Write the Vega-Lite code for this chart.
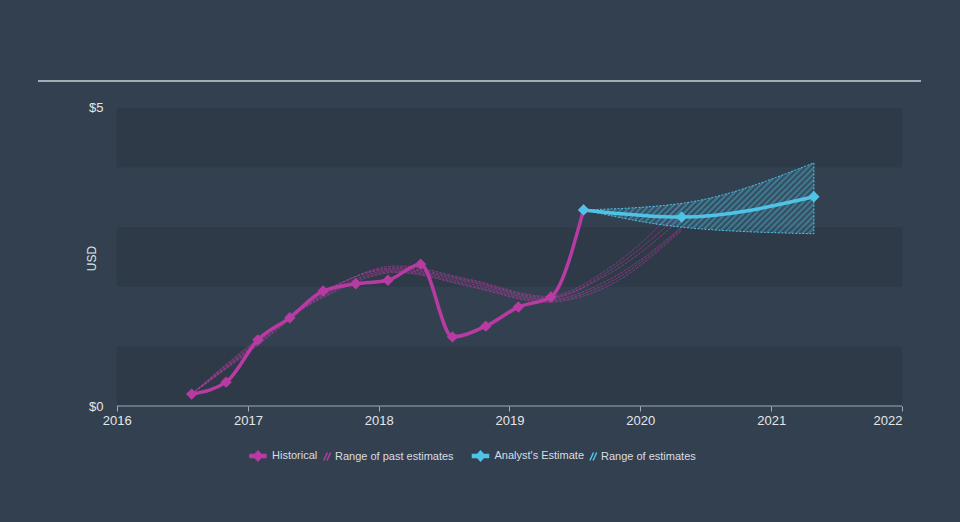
{
  "$schema": "https://vega.github.io/schema/vega-lite/v6.json",
  "width": 883,
  "height": 325,
  "autosize": "none",
  "padding": {"left": 38, "top": 81, "right": 39, "bottom": 116},
  "background": "#334050",
  "config": {
    "view": {"stroke": null},
    "font": "Liberation Sans",
    "axis": {"grid": false, "labelFont": "Liberation Sans", "titleFont": "Liberation Sans"},
    "legend": {"labelFont": "Liberation Sans"}
  },
  "datasets": {
    "bands": [{"lo": 0, "hi": 1}, {"lo": 2, "hi": 3}, {"lo": 4, "hi": 5}],
    "historical": [
      {"date": "2016-07-28", "value": 0.20},
      {"date": "2016-11-01", "value": 0.40},
      {"date": "2017-01-29", "value": 1.11},
      {"date": "2017-04-28", "value": 1.48},
      {"date": "2017-07-30", "value": 1.93},
      {"date": "2017-10-29", "value": 2.05},
      {"date": "2018-01-27", "value": 2.11},
      {"date": "2018-04-28", "value": 2.38},
      {"date": "2018-07-26", "value": 1.16},
      {"date": "2018-10-27", "value": 1.34},
      {"date": "2019-01-26", "value": 1.66},
      {"date": "2019-04-27", "value": 1.83},
      {"date": "2019-07-27", "value": 3.29}
    ],
    "analyst": [
      {"date": "2019-07-27", "value": 3.29},
      {"date": "2020-04-26", "value": 3.17},
      {"date": "2021-04-30", "value": 3.51}
    ],
    "range": [
      {"date": "2019-07-27", "low": 3.29, "high": 3.29},
      {"date": "2020-04-26", "low": 3.00, "high": 3.40},
      {"date": "2021-04-30", "low": 2.89, "high": 4.08}
    ],
    "past": [
      {"run": 1, "date": "2016-07-28", "value": 0.20},
      {"run": 1, "date": "2017-01-29", "value": 1.02},
      {"run": 1, "date": "2017-07-30", "value": 1.86},
      {"run": 1, "date": "2018-02-20", "value": 2.28},
      {"run": 1, "date": "2018-09-15", "value": 2.05},
      {"run": 1, "date": "2019-04-15", "value": 1.78},
      {"run": 1, "date": "2019-10-15", "value": 2.15},
      {"run": 1, "date": "2020-04-26", "value": 3.00},
      {"run": 2, "date": "2016-07-28", "value": 0.20},
      {"run": 2, "date": "2017-01-29", "value": 1.06},
      {"run": 2, "date": "2017-07-30", "value": 1.90},
      {"run": 2, "date": "2018-02-20", "value": 2.32},
      {"run": 2, "date": "2018-09-15", "value": 2.10},
      {"run": 2, "date": "2019-04-15", "value": 1.82},
      {"run": 2, "date": "2019-10-15", "value": 2.25},
      {"run": 2, "date": "2020-04-26", "value": 3.15},
      {"run": 3, "date": "2016-07-28", "value": 0.20},
      {"run": 3, "date": "2017-01-29", "value": 1.10},
      {"run": 3, "date": "2017-07-30", "value": 1.84},
      {"run": 3, "date": "2018-02-20", "value": 2.26},
      {"run": 3, "date": "2018-09-15", "value": 2.02},
      {"run": 3, "date": "2019-04-15", "value": 1.76},
      {"run": 3, "date": "2019-10-15", "value": 2.10},
      {"run": 3, "date": "2020-04-26", "value": 2.98},
      {"run": 4, "date": "2016-07-28", "value": 0.20},
      {"run": 4, "date": "2017-01-29", "value": 1.08},
      {"run": 4, "date": "2017-07-30", "value": 1.92},
      {"run": 4, "date": "2018-02-20", "value": 2.30},
      {"run": 4, "date": "2018-09-15", "value": 2.08},
      {"run": 4, "date": "2019-04-15", "value": 1.80},
      {"run": 4, "date": "2019-10-15", "value": 2.30},
      {"run": 4, "date": "2020-04-26", "value": 3.25},
      {"run": 5, "date": "2016-07-28", "value": 0.20},
      {"run": 5, "date": "2017-01-29", "value": 1.04},
      {"run": 5, "date": "2017-07-30", "value": 1.88},
      {"run": 5, "date": "2018-02-20", "value": 2.35},
      {"run": 5, "date": "2018-09-15", "value": 2.12},
      {"run": 5, "date": "2019-04-15", "value": 1.84},
      {"run": 5, "date": "2019-10-15", "value": 2.35},
      {"run": 5, "date": "2020-04-26", "value": 3.40},
      {"run": 6, "date": "2016-07-28", "value": 0.20},
      {"run": 6, "date": "2017-01-29", "value": 1.12},
      {"run": 6, "date": "2017-07-30", "value": 1.82},
      {"run": 6, "date": "2018-02-20", "value": 2.24},
      {"run": 6, "date": "2018-09-15", "value": 2.00},
      {"run": 6, "date": "2019-04-15", "value": 1.74},
      {"run": 6, "date": "2019-10-15", "value": 2.05},
      {"run": 6, "date": "2020-04-26", "value": 2.95}
    ]
  },
  "layer": [
    {
      "data": {"name": "bands"},
      "mark": {"type": "rect", "color": "#2e3a48"},
      "encoding": {
        "x": {
          "datum": {"year": 2016, "month": 1, "date": 1, "utc": true}, "type": "temporal", "title": null,
          "scale": {"type": "utc", "nice": false, "domain": [{"year": 2015, "month": 5, "date": 26, "utc": true}, {"year": 2022, "month": 2, "date": 23, "utc": true}]},
          "axis": {
            "title": null,
            "domain": false,
            "values": [{"year": 2016, "utc": true}, {"year": 2017, "utc": true}, {"year": 2018, "utc": true}, {"year": 2019, "utc": true}, {"year": 2020, "utc": true}, {"year": 2021, "utc": true}, {"year": 2022, "utc": true}],
            "format": "%Y",
            "labelFlush": false,
            "labelOverlap": false,
            "labelFontSize": 13,
            "labelColor": "#e4e7ea",
            "labelPadding": 3,
            "labelAlign": {"condition": {"test": "utcyear(datum.value) == 2022", "value": "right"}, "value": "center"},
            "ticks": true,
            "tickSize": 5,
            "tickColor": "#a3abb3",
            "tickWidth": 1
          }
        },
        "x2": {"datum": {"year": 2022, "month": 1, "date": 1, "utc": true}},
        "y": {
          "field": "lo", "type": "quantitative", "title": "USD",
          "scale": {"domain": [0, 5.453], "nice": false},
          "axis": {
            "title": "USD",
            "titleFontSize": 12,
            "titleFontWeight": "normal",
            "titleColor": "#dfe3e7",
            "titlePadding": -10,
            "titleY": 177,
            "values": [0, 5],
            "labelExpr": "'$' + datum.value",
            "labelFontSize": 13,
            "labelColor": "#e4e7ea",
            "labelPadding": 14,
            "offset": -79,
            "ticks": false,
            "domain": false
          }
        },
        "y2": {"field": "hi"}
      }
    },
    {
      "data": {"values": [{}]},
      "mark": {"type": "rule", "color": "#a3abb3", "strokeWidth": 2},
      "encoding": {
        "y": {"datum": 5.453, "type": "quantitative", "title": "USD", "scale": {"domain": [0, 5.453], "nice": false}}
      }
    },
    {
      "data": {"values": [{}]},
      "mark": {"type": "rule", "color": "#a3abb3", "strokeWidth": 1},
      "encoding": {
        "x": {"datum": {"year": 2016, "month": 1, "date": 1, "utc": true}, "type": "temporal", "title": null, "scale": {"type": "utc", "nice": false, "domain": [{"year": 2015, "month": 5, "date": 26, "utc": true}, {"year": 2022, "month": 2, "date": 23, "utc": true}]}},
        "x2": {"datum": {"year": 2022, "month": 1, "date": 1, "utc": true}},
        "y": {"datum": 0, "type": "quantitative", "title": "USD", "scale": {"domain": [0, 5.453], "nice": false}}
      }
    },
    {
      "layer": [
        {
          "data": {"name": "past"},
          "mark": {"type": "line", "interpolate": "monotone", "strokeWidth": 0.8, "opacity": 0.75, "strokeDash": [3, 1]},
          "encoding": {
            "x": {"field": "date", "type": "temporal", "title": null, "scale": {"type": "utc", "nice": false, "domain": [{"year": 2015, "month": 5, "date": 26, "utc": true}, {"year": 2022, "month": 2, "date": 23, "utc": true}]}},
            "y": {"field": "value", "type": "quantitative", "title": "USD", "scale": {"domain": [0, 5.453], "nice": false}},
            "detail": {"field": "run", "type": "nominal"},
            "color": {
              "datum": "Range of past estimates",
              "type": "nominal",
              "scale": {"domain": ["Historical", "Range of past estimates"], "range": ["#b83ba3", "#b83ba3"]},
              "legend": {
                "title": null, "orient": "none", "legendX": 211, "legendY": 366, "direction": "horizontal",
                "columnPadding": 0, "labelOffset": 5, "symbolSize": 256, "labelFontSize": 11, "labelColor": "#d9dde2", "padding": 0,
                "encode": {
                  "symbols": {"update": {
                    "shape": {"signal": "datum.value == 'Historical' ? 'M-1,-0.19H1V0.19H-1Z M0,-0.62L0.56,0L0,0.62L-0.56,0Z' : 'M-0.4,0.5L0.05,-0.5M0,0.5L0.45,-0.5'"},
                    "fill": {"signal": "datum.value == 'Historical' ? '#b83ba3' : 'transparent'"},
                    "stroke": {"signal": "datum.value == 'Historical' ? 'transparent' : '#b83ba3'"},
                    "strokeWidth": {"value": 1.5}, "opacity": {"value": 1}, "strokeDash": {"value": []}
                  }},
                  "labels": {"update": {"dx": {"signal": "datum.value == 'Historical' ? 0 : -6"}}}
                }
              }
            }
          }
        },
        {
          "data": {"name": "historical"},
          "mark": {"type": "line", "interpolate": "monotone", "strokeWidth": 3.5},
          "encoding": {
            "x": {"field": "date", "type": "temporal", "title": null, "scale": {"type": "utc", "nice": false, "domain": [{"year": 2015, "month": 5, "date": 26, "utc": true}, {"year": 2022, "month": 2, "date": 23, "utc": true}]}},
            "y": {"field": "value", "type": "quantitative", "title": "USD", "scale": {"domain": [0, 5.453], "nice": false}},
            "color": {
              "datum": "Historical",
              "type": "nominal",
              "scale": {"domain": ["Historical", "Range of past estimates"], "range": ["#b83ba3", "#b83ba3"]},
              "legend": {
                "title": null, "orient": "none", "legendX": 211, "legendY": 366, "direction": "horizontal",
                "columnPadding": 0, "labelOffset": 5, "symbolSize": 256, "labelFontSize": 11, "labelColor": "#d9dde2", "padding": 0,
                "encode": {
                  "symbols": {"update": {
                    "shape": {"signal": "datum.value == 'Historical' ? 'M-1,-0.19H1V0.19H-1Z M0,-0.62L0.56,0L0,0.62L-0.56,0Z' : 'M-0.4,0.5L0.05,-0.5M0,0.5L0.45,-0.5'"},
                    "fill": {"signal": "datum.value == 'Historical' ? '#b83ba3' : 'transparent'"},
                    "stroke": {"signal": "datum.value == 'Historical' ? 'transparent' : '#b83ba3'"},
                    "strokeWidth": {"value": 1.5}, "opacity": {"value": 1}, "strokeDash": {"value": []}
                  }},
                  "labels": {"update": {"dx": {"signal": "datum.value == 'Historical' ? 0 : -6"}}}
                }
              }
            }
          }
        },
        {
          "data": {"name": "historical"},
          "mark": {"type": "point", "shape": "diamond", "filled": true, "size": 130, "opacity": 1},
          "encoding": {
            "x": {"field": "date", "type": "temporal", "title": null, "scale": {"type": "utc", "nice": false, "domain": [{"year": 2015, "month": 5, "date": 26, "utc": true}, {"year": 2022, "month": 2, "date": 23, "utc": true}]}},
            "y": {"field": "value", "type": "quantitative", "title": "USD", "scale": {"domain": [0, 5.453], "nice": false}},
            "color": {
              "datum": "Historical",
              "type": "nominal",
              "scale": {"domain": ["Historical", "Range of past estimates"], "range": ["#b83ba3", "#b83ba3"]},
              "legend": {
                "title": null, "orient": "none", "legendX": 211, "legendY": 366, "direction": "horizontal",
                "columnPadding": 0, "labelOffset": 5, "symbolSize": 256, "labelFontSize": 11, "labelColor": "#d9dde2", "padding": 0,
                "encode": {
                  "symbols": {"update": {
                    "shape": {"signal": "datum.value == 'Historical' ? 'M-1,-0.19H1V0.19H-1Z M0,-0.62L0.56,0L0,0.62L-0.56,0Z' : 'M-0.4,0.5L0.05,-0.5M0,0.5L0.45,-0.5'"},
                    "fill": {"signal": "datum.value == 'Historical' ? '#b83ba3' : 'transparent'"},
                    "stroke": {"signal": "datum.value == 'Historical' ? 'transparent' : '#b83ba3'"},
                    "strokeWidth": {"value": 1.5}, "opacity": {"value": 1}, "strokeDash": {"value": []}
                  }},
                  "labels": {"update": {"dx": {"signal": "datum.value == 'Historical' ? 0 : -6"}}}
                }
              }
            }
          }
        }
      ]
    },
    {
      "layer": [
        {
          "data": {"name": "range"},
          "mark": {
            "type": "area",
            "interpolate": "monotone",
            "stroke": "#4fc3e6",
            "strokeWidth": 1,
            "strokeDash": [2, 1.5],
            "fill": {
              "gradient": "linear",
              "x1": 0, "y1": 0, "x2": 1.195, "y2": 0.369,
              "stops": [
                {"offset": 0, "color": "rgba(79,195,230,0.5)"}, {"offset": 0.01, "color": "rgba(79,195,230,0.03)"},
                {"offset": 0.02, "color": "rgba(79,195,230,0.5)"}, {"offset": 0.03, "color": "rgba(79,195,230,0.03)"},
                {"offset": 0.04, "color": "rgba(79,195,230,0.5)"}, {"offset": 0.05, "color": "rgba(79,195,230,0.03)"},
                {"offset": 0.06, "color": "rgba(79,195,230,0.5)"}, {"offset": 0.07, "color": "rgba(79,195,230,0.03)"},
                {"offset": 0.08, "color": "rgba(79,195,230,0.5)"}, {"offset": 0.09, "color": "rgba(79,195,230,0.03)"},
                {"offset": 0.10, "color": "rgba(79,195,230,0.5)"}, {"offset": 0.11, "color": "rgba(79,195,230,0.03)"},
                {"offset": 0.12, "color": "rgba(79,195,230,0.5)"}, {"offset": 0.13, "color": "rgba(79,195,230,0.03)"},
                {"offset": 0.14, "color": "rgba(79,195,230,0.5)"}, {"offset": 0.15, "color": "rgba(79,195,230,0.03)"},
                {"offset": 0.16, "color": "rgba(79,195,230,0.5)"}, {"offset": 0.17, "color": "rgba(79,195,230,0.03)"},
                {"offset": 0.18, "color": "rgba(79,195,230,0.5)"}, {"offset": 0.19, "color": "rgba(79,195,230,0.03)"},
                {"offset": 0.20, "color": "rgba(79,195,230,0.5)"}, {"offset": 0.21, "color": "rgba(79,195,230,0.03)"},
                {"offset": 0.22, "color": "rgba(79,195,230,0.5)"}, {"offset": 0.23, "color": "rgba(79,195,230,0.03)"},
                {"offset": 0.24, "color": "rgba(79,195,230,0.5)"}, {"offset": 0.25, "color": "rgba(79,195,230,0.03)"},
                {"offset": 0.26, "color": "rgba(79,195,230,0.5)"}, {"offset": 0.27, "color": "rgba(79,195,230,0.03)"},
                {"offset": 0.28, "color": "rgba(79,195,230,0.5)"}, {"offset": 0.29, "color": "rgba(79,195,230,0.03)"},
                {"offset": 0.30, "color": "rgba(79,195,230,0.5)"}, {"offset": 0.31, "color": "rgba(79,195,230,0.03)"},
                {"offset": 0.32, "color": "rgba(79,195,230,0.5)"}, {"offset": 0.33, "color": "rgba(79,195,230,0.03)"},
                {"offset": 0.34, "color": "rgba(79,195,230,0.5)"}, {"offset": 0.35, "color": "rgba(79,195,230,0.03)"},
                {"offset": 0.36, "color": "rgba(79,195,230,0.5)"}, {"offset": 0.37, "color": "rgba(79,195,230,0.03)"},
                {"offset": 0.38, "color": "rgba(79,195,230,0.5)"}, {"offset": 0.39, "color": "rgba(79,195,230,0.03)"},
                {"offset": 0.40, "color": "rgba(79,195,230,0.5)"}, {"offset": 0.41, "color": "rgba(79,195,230,0.03)"},
                {"offset": 0.42, "color": "rgba(79,195,230,0.5)"}, {"offset": 0.43, "color": "rgba(79,195,230,0.03)"},
                {"offset": 0.44, "color": "rgba(79,195,230,0.5)"}, {"offset": 0.45, "color": "rgba(79,195,230,0.03)"},
                {"offset": 0.46, "color": "rgba(79,195,230,0.5)"}, {"offset": 0.47, "color": "rgba(79,195,230,0.03)"},
                {"offset": 0.48, "color": "rgba(79,195,230,0.5)"}, {"offset": 0.49, "color": "rgba(79,195,230,0.03)"},
                {"offset": 0.50, "color": "rgba(79,195,230,0.5)"}, {"offset": 0.51, "color": "rgba(79,195,230,0.03)"},
                {"offset": 0.52, "color": "rgba(79,195,230,0.5)"}, {"offset": 0.53, "color": "rgba(79,195,230,0.03)"},
                {"offset": 0.54, "color": "rgba(79,195,230,0.5)"}, {"offset": 0.55, "color": "rgba(79,195,230,0.03)"},
                {"offset": 0.56, "color": "rgba(79,195,230,0.5)"}, {"offset": 0.57, "color": "rgba(79,195,230,0.03)"},
                {"offset": 0.58, "color": "rgba(79,195,230,0.5)"}, {"offset": 0.59, "color": "rgba(79,195,230,0.03)"},
                {"offset": 0.60, "color": "rgba(79,195,230,0.5)"}, {"offset": 0.61, "color": "rgba(79,195,230,0.03)"},
                {"offset": 0.62, "color": "rgba(79,195,230,0.5)"}, {"offset": 0.63, "color": "rgba(79,195,230,0.03)"},
                {"offset": 0.64, "color": "rgba(79,195,230,0.5)"}, {"offset": 0.65, "color": "rgba(79,195,230,0.03)"},
                {"offset": 0.66, "color": "rgba(79,195,230,0.5)"}, {"offset": 0.67, "color": "rgba(79,195,230,0.03)"},
                {"offset": 0.68, "color": "rgba(79,195,230,0.5)"}, {"offset": 0.69, "color": "rgba(79,195,230,0.03)"},
                {"offset": 0.70, "color": "rgba(79,195,230,0.5)"}, {"offset": 0.71, "color": "rgba(79,195,230,0.03)"},
                {"offset": 0.72, "color": "rgba(79,195,230,0.5)"}, {"offset": 0.73, "color": "rgba(79,195,230,0.03)"},
                {"offset": 0.74, "color": "rgba(79,195,230,0.5)"}, {"offset": 0.75, "color": "rgba(79,195,230,0.03)"},
                {"offset": 0.76, "color": "rgba(79,195,230,0.5)"}, {"offset": 0.77, "color": "rgba(79,195,230,0.03)"},
                {"offset": 0.78, "color": "rgba(79,195,230,0.5)"}, {"offset": 0.79, "color": "rgba(79,195,230,0.03)"},
                {"offset": 0.80, "color": "rgba(79,195,230,0.5)"}, {"offset": 0.81, "color": "rgba(79,195,230,0.03)"},
                {"offset": 0.82, "color": "rgba(79,195,230,0.5)"}, {"offset": 0.83, "color": "rgba(79,195,230,0.03)"},
                {"offset": 0.84, "color": "rgba(79,195,230,0.5)"}, {"offset": 0.85, "color": "rgba(79,195,230,0.03)"},
                {"offset": 0.86, "color": "rgba(79,195,230,0.5)"}, {"offset": 0.87, "color": "rgba(79,195,230,0.03)"},
                {"offset": 0.88, "color": "rgba(79,195,230,0.5)"}, {"offset": 0.89, "color": "rgba(79,195,230,0.03)"},
                {"offset": 0.90, "color": "rgba(79,195,230,0.5)"}, {"offset": 0.91, "color": "rgba(79,195,230,0.03)"},
                {"offset": 0.92, "color": "rgba(79,195,230,0.5)"}, {"offset": 0.93, "color": "rgba(79,195,230,0.03)"},
                {"offset": 0.94, "color": "rgba(79,195,230,0.5)"}, {"offset": 0.95, "color": "rgba(79,195,230,0.03)"},
                {"offset": 0.96, "color": "rgba(79,195,230,0.5)"}, {"offset": 0.97, "color": "rgba(79,195,230,0.03)"},
                {"offset": 0.98, "color": "rgba(79,195,230,0.5)"}, {"offset": 0.99, "color": "rgba(79,195,230,0.03)"},
                {"offset": 1, "color": "rgba(79,195,230,0.5)"}
              ]
            }
          },
          "encoding": {
            "x": {"field": "date", "type": "temporal", "title": null, "scale": {"type": "utc", "nice": false, "domain": [{"year": 2015, "month": 5, "date": 26, "utc": true}, {"year": 2022, "month": 2, "date": 23, "utc": true}]}},
            "y": {"field": "low", "type": "quantitative", "title": "USD", "scale": {"domain": [0, 5.453], "nice": false}},
            "y2": {"field": "high"}
          }
        },
        {
          "data": {"name": "analyst"},
          "mark": {"type": "line", "interpolate": "monotone", "strokeWidth": 3.5},
          "encoding": {
            "x": {"field": "date", "type": "temporal", "title": null, "scale": {"type": "utc", "nice": false, "domain": [{"year": 2015, "month": 5, "date": 26, "utc": true}, {"year": 2022, "month": 2, "date": 23, "utc": true}]}},
            "y": {"field": "value", "type": "quantitative", "title": "USD", "scale": {"domain": [0, 5.453], "nice": false}},
            "color": {
              "datum": "Analyst's Estimate",
              "type": "nominal",
              "scale": {"domain": ["Analyst's Estimate", "Range of estimates"], "range": ["#4fc3e6", "#4fc3e6"]},
              "legend": {
                "title": null, "orient": "none", "legendX": 433.5, "legendY": 366, "direction": "horizontal",
                "columnPadding": 0, "labelOffset": 5, "symbolSize": 256, "labelFontSize": 11, "labelColor": "#d9dde2", "padding": 0,
                "encode": {
                  "symbols": {"update": {
                    "shape": {"signal": "datum.value == 'Range of estimates' ? 'M-0.45,0.5L0,-0.5M-0.05,0.5L0.4,-0.5' : 'M-1,-0.19H1V0.19H-1Z M0,-0.62L0.56,0L0,0.62L-0.56,0Z'"},
                    "fill": {"signal": "datum.value == 'Range of estimates' ? 'transparent' : '#4fc3e6'"},
                    "stroke": {"signal": "datum.value == 'Range of estimates' ? '#4fc3e6' : 'transparent'"},
                    "strokeWidth": {"value": 1.5}, "opacity": {"value": 1}, "strokeDash": {"value": []}
                  }},
                  "labels": {"update": {"dx": {"signal": "datum.value == 'Range of estimates' ? -6.5 : 0"}}}
                }
              }
            }
          }
        },
        {
          "data": {"name": "analyst"},
          "mark": {"type": "point", "shape": "diamond", "filled": true, "size": 130, "opacity": 1},
          "encoding": {
            "x": {"field": "date", "type": "temporal", "title": null, "scale": {"type": "utc", "nice": false, "domain": [{"year": 2015, "month": 5, "date": 26, "utc": true}, {"year": 2022, "month": 2, "date": 23, "utc": true}]}},
            "y": {"field": "value", "type": "quantitative", "title": "USD", "scale": {"domain": [0, 5.453], "nice": false}},
            "color": {
              "datum": "Analyst's Estimate",
              "type": "nominal",
              "scale": {"domain": ["Analyst's Estimate", "Range of estimates"], "range": ["#4fc3e6", "#4fc3e6"]},
              "legend": {
                "title": null, "orient": "none", "legendX": 433.5, "legendY": 366, "direction": "horizontal",
                "columnPadding": 0, "labelOffset": 5, "symbolSize": 256, "labelFontSize": 11, "labelColor": "#d9dde2", "padding": 0,
                "encode": {
                  "symbols": {"update": {
                    "shape": {"signal": "datum.value == 'Range of estimates' ? 'M-0.45,0.5L0,-0.5M-0.05,0.5L0.4,-0.5' : 'M-1,-0.19H1V0.19H-1Z M0,-0.62L0.56,0L0,0.62L-0.56,0Z'"},
                    "fill": {"signal": "datum.value == 'Range of estimates' ? 'transparent' : '#4fc3e6'"},
                    "stroke": {"signal": "datum.value == 'Range of estimates' ? '#4fc3e6' : 'transparent'"},
                    "strokeWidth": {"value": 1.5}, "opacity": {"value": 1}, "strokeDash": {"value": []}
                  }},
                  "labels": {"update": {"dx": {"signal": "datum.value == 'Range of estimates' ? -6.5 : 0"}}}
                }
              }
            }
          }
        }
      ]
    }
  ],
  "resolve": {"scale": {"color": "independent"}, "legend": {"color": "independent"}}
}
